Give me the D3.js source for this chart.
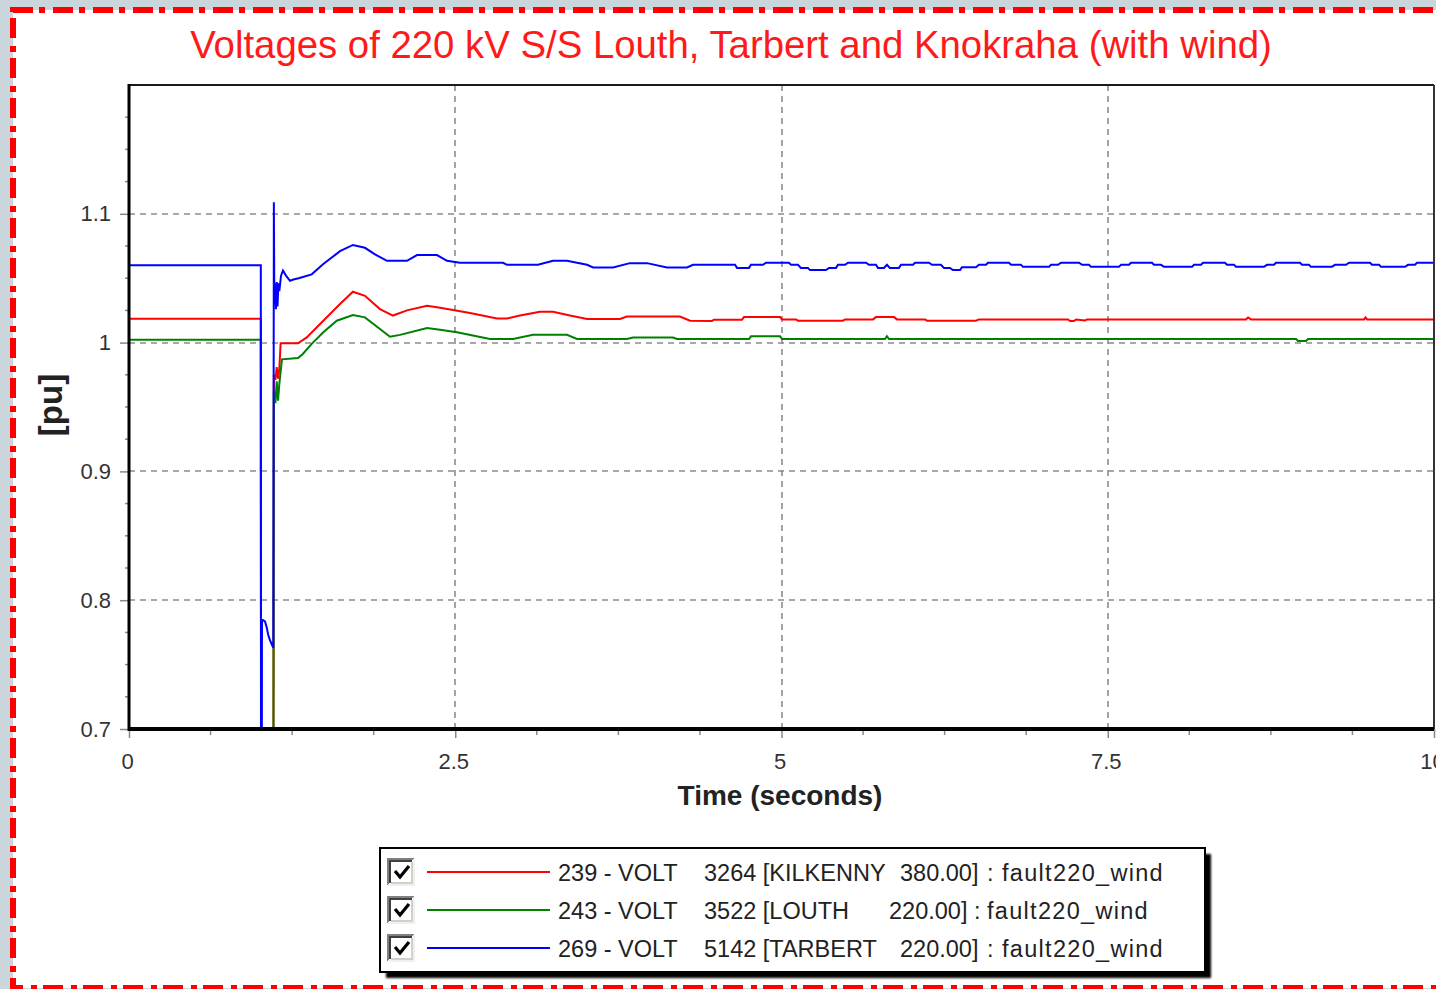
<!DOCTYPE html>
<html><head><meta charset="utf-8">
<script src="https://cdn.jsdelivr.net/npm/d3@7"></script>
<style>
html,body{margin:0;padding:0;background:#cbd5dc;overflow:hidden;}
svg{display:block;}
text{font-family:"Liberation Sans",Arial,sans-serif;}
</style></head><body>
<svg id="chart" width="1436" height="989"></svg>
<script>
// ---------------- data ----------------
const chartTitle = "Voltages of 220 kV S/S Louth, Tarbert and Knokraha (with wind)";
const xAxisTitle = "Time (seconds)";
const yAxisTitle = "[pu]";
const xTickValues = [0, 2.5, 5, 7.5, 10];
const xTickLabels = ["0", "2.5", "5", "7.5", "10"];
const yTickValues = [0.7, 0.8, 0.9, 1.0, 1.1];
const yTickLabels = ["0.7", "0.8", "0.9", "1", "1.1"];

const legendId = ["239 - VOLT", "243 - VOLT", "269 - VOLT"];
const legendBus = ["3264 [KILKENNY", "3522 [LOUTH", "5142 [TARBERT"];
const legendKv = ["380.00]", "220.00]", "220.00]"];
const legendSep = [":", ":", ":"];
const legendCase = ["fault220_wind", "fault220_wind", "fault220_wind"];
const seriesColors = ["#ff0000", "#008000", "#0000ff"];

// [time s, voltage pu]
const volt239 = [[0,1.0185],[1.010,1.0185],[1.013,0.50],[1.105,0.50],[1.110,0.975],[1.122,0.971],[1.132,0.981],[1.142,0.972],[1.152,0.980],[1.162,0.9995],[1.295,0.9995],[1.362,1.004],[1.489,1.017],[1.617,1.030],[1.716,1.0395],[1.808,1.0363],[1.923,1.026],[2.023,1.021],[2.130,1.025],[2.284,1.0286],[2.383,1.027],[2.483,1.0253],[2.613,1.023],[2.820,1.0188],[2.897,1.0188],[2.996,1.021],[3.149,1.024],[3.249,1.024],[3.379,1.021],[3.510,1.0183],[3.762,1.0183],[3.816,1.0203],[4.222,1.0203],[4.299,1.017],[4.467,1.0168],[4.483,1.0178],[4.697,1.0178],[4.713,1.0198],[4.989,1.0198],[5.004,1.018],[5.111,1.018],[5.126,1.017],[5.471,1.017],[5.487,1.018],[5.701,1.018],[5.724,1.0198],[5.862,1.0198],[5.885,1.018],[6.100,1.018],[6.115,1.017],[6.490,1.017],[6.513,1.018],[7.195,1.018],[7.211,1.0168],[7.241,1.0168],[7.257,1.018],[7.326,1.0172],[7.341,1.018],[8.559,1.018],[8.575,1.0195],[8.598,1.018],[9.464,1.018],[9.475,1.0195],[9.487,1.018],[10.0,1.018]];

const volt243 = [[0,1.0023],[1.010,1.0023],[1.013,0.50],[1.105,0.50],[1.110,0.962],[1.122,0.953],[1.132,0.970],[1.142,0.955],[1.152,0.968],[1.172,0.987],[1.295,0.988],[1.330,0.991],[1.400,0.999],[1.489,1.008],[1.592,1.017],[1.716,1.0214],[1.808,1.0196],[1.923,1.0106],[2.000,1.0046],[2.077,1.006],[2.284,1.0113],[2.383,1.010],[2.513,1.008],[2.766,1.0028],[2.943,1.0028],[3.096,1.006],[3.356,1.006],[3.433,1.0028],[3.816,1.0028],[3.862,1.004],[4.169,1.004],[4.199,1.0028],[4.751,1.0028],[4.766,1.0049],[4.989,1.0049],[5.004,1.0028],[5.793,1.0028],[5.808,1.005],[5.824,1.0028],[8.943,1.0028],[8.958,1.0012],[9.019,1.0012],[9.034,1.0028],[10.0,1.0028]];

const volt269 = [[0,1.060],[1.010,1.060],[1.013,0.30],[1.019,0.785],[1.042,0.7835],[1.055,0.779],[1.067,0.773],[1.080,0.769],[1.093,0.766],[1.106,0.763],[1.110,1.109],[1.114,1.030],[1.120,1.046],[1.126,1.026],[1.132,1.047],[1.138,1.028],[1.145,1.046],[1.152,1.040],[1.165,1.052],[1.180,1.056],[1.203,1.052],[1.234,1.048],[1.260,1.049],[1.300,1.050],[1.400,1.053],[1.489,1.061],[1.617,1.071],[1.716,1.0758],[1.808,1.0736],[1.885,1.0685],[1.977,1.0635],[2.130,1.0635],[2.207,1.068],[2.360,1.068],[2.437,1.0635],[2.536,1.062],[2.866,1.062],[2.897,1.0604],[3.134,1.0604],[3.249,1.0635],[3.356,1.0635],[3.510,1.0604],[3.556,1.0583],[3.709,1.0583],[3.839,1.0617],[3.969,1.0617],[4.123,1.0583],[4.276,1.0583],[4.322,1.0604],[4.644,1.0604],[4.659,1.058],[4.751,1.058],[4.766,1.0604],[4.858,1.0604],[4.881,1.062],[5.057,1.062],[5.073,1.0604],[5.126,1.0604],[5.149,1.058],[5.203,1.058],[5.218,1.0563],[5.341,1.0563],[5.364,1.058],[5.418,1.058],[5.433,1.0604],[5.487,1.0604],[5.510,1.062],[5.648,1.062],[5.670,1.0604],[5.724,1.0604],[5.739,1.058],[5.785,1.058],[5.808,1.0604],[5.830,1.058],[5.900,1.058],[5.916,1.0604],[6.008,1.0604],[6.023,1.062],[6.130,1.062],[6.153,1.0604],[6.222,1.0604],[6.245,1.058],[6.291,1.058],[6.314,1.0563],[6.368,1.0563],[6.383,1.0585],[6.490,1.0585],[6.513,1.0604],[6.567,1.0604],[6.582,1.062],[6.743,1.062],[6.759,1.0604],[6.835,1.0604],[6.851,1.0588],[7.050,1.0588],[7.065,1.0604],[7.119,1.0604],[7.142,1.062],[7.280,1.062],[7.303,1.0604],[7.356,1.0604],[7.372,1.0588],[7.586,1.0588],[7.602,1.0604],[7.663,1.0604],[7.678,1.062],[7.839,1.062],[7.854,1.0604],[7.908,1.0604],[7.931,1.0588],[8.146,1.0588],[8.161,1.0604],[8.215,1.0604],[8.230,1.062],[8.398,1.062],[8.414,1.0604],[8.467,1.0604],[8.483,1.0588],[8.697,1.0588],[8.720,1.0604],[8.774,1.0604],[8.789,1.062],[8.973,1.062],[8.989,1.0604],[9.042,1.0604],[9.057,1.0588],[9.218,1.0588],[9.241,1.0604],[9.326,1.0604],[9.349,1.062],[9.510,1.062],[9.525,1.0604],[9.579,1.0604],[9.594,1.0588],[9.778,1.0588],[9.801,1.0604],[9.854,1.0604],[9.870,1.062],[10.0,1.062]];

const seriesData = [volt239, volt243, volt269];

// ---------------- layout ----------------
const W = 1436, H = 989;
const plot = {left: 129, right: 1434, top: 85, bottom: 729};
const svg = d3.select("#chart");

const x = d3.scaleLinear().domain([0, 10]).range([plot.left, plot.right]);
const y = d3.scaleLinear().domain([0.7, 1.2]).range([plot.bottom, plot.top]);

// page background + red dash-dot frame
svg.append("rect").attr("width", W).attr("height", H).attr("fill", "#cbd5dc");
svg.append("rect").attr("x", 13).attr("y", 10).attr("width", W + 20).attr("height", 978)
  .attr("fill", "#ffffff").attr("stroke", "#ff0000").attr("stroke-width", 6)
  .attr("stroke-dasharray", "20,6,6,8");

// title
svg.append("text").attr("x", 731).attr("y", 58).attr("text-anchor", "middle")
  .attr("fill", "#ff1a1a").style("font-size", "32px").text(chartTitle)
  .each(function(){ const L=this.getComputedTextLength(); if(L>0){ d3.select(this).style("font-size", (32*1082/L).toFixed(2)+"px"); } });

// clip
svg.append("clipPath").attr("id", "clip").append("rect")
  .attr("x", plot.left).attr("y", plot.top).attr("width", plot.right - plot.left).attr("height", plot.bottom - plot.top);

// grid
const grid = svg.append("g").attr("stroke", "#8c8c8c").attr("stroke-width", 1.6).attr("stroke-dasharray", "6,5");
grid.selectAll("line.h").data(yTickValues.slice(1)).join("line")
  .attr("x1", plot.left).attr("x2", plot.right).attr("y1", d => Math.round(y(d))).attr("y2", d => Math.round(y(d)));
grid.selectAll("line.v").data(xTickValues.slice(1, -1)).join("line")
  .attr("y1", plot.top).attr("y2", plot.bottom).attr("x1", d => Math.round(x(d))).attr("x2", d => Math.round(x(d)));

// lines
const line = d3.line().x(d => x(d[0])).y(d => y(d[1]));
svg.append("g").attr("clip-path", "url(#clip)")
  .selectAll("path").data(seriesData).join("path")
  .attr("d", line).attr("fill", "none")
  .attr("stroke", (d, i) => seriesColors[i]).attr("stroke-width", 2)
  .attr("stroke-linejoin", "miter");

// minor ticks
const minorY = d3.range(0.725, 1.2, 0.025).filter(v => Math.abs(v*10 - Math.round(v*10)) > 0.01);
svg.append("g").selectAll("line").data(minorY).join("line")
  .attr("x1", plot.left - 4).attr("x2", plot.left).attr("y1", d => y(d)).attr("y2", d => y(d))
  .attr("stroke", "#888").attr("stroke-width", 1.5);
const minorX = d3.range(0.625, 10, 0.625).filter(v => Math.abs(v/2.5 - Math.round(v/2.5)) > 0.01);
svg.append("g").selectAll("line").data(minorX).join("line")
  .attr("y1", plot.bottom).attr("y2", plot.bottom + 6).attr("x1", d => x(d)).attr("x2", d => x(d))
  .attr("stroke", "#888").attr("stroke-width", 1.5);

// axes
const yAxis = d3.axisLeft(y).tickValues(yTickValues).tickFormat((d, i) => yTickLabels[i]).tickSize(9).tickPadding(9);
const gy = svg.append("g").attr("transform", `translate(${plot.left},0)`).call(yAxis);
const xAxis = d3.axisBottom(x).tickValues(xTickValues).tickFormat((d, i) => xTickLabels[i]).tickSize(9).tickPadding(15);
const gx = svg.append("g").attr("transform", `translate(0,${plot.bottom})`).call(xAxis);
[gy, gx].forEach(g => {
  g.select(".domain").remove();
  g.selectAll(".tick line").attr("stroke", "#888").attr("stroke-width", 1.5);
  g.selectAll(".tick text").attr("fill", "#333").style("font-size", "22px").style("font-family", '"Liberation Sans",Arial,sans-serif');
});
gx.selectAll(".tick text").attr("dx", "-2");

// frame
svg.append("line").attr("x1", plot.left).attr("x2", plot.right).attr("y1", plot.top).attr("y2", plot.top)
  .attr("stroke", "#1a1a1a").attr("stroke-width", 2);
svg.append("line").attr("x1", plot.right).attr("x2", plot.right).attr("y1", plot.top).attr("y2", plot.bottom)
  .attr("stroke", "#333").attr("stroke-width", 2);
svg.append("line").attr("x1", plot.left).attr("x2", plot.left).attr("y1", plot.top - 1).attr("y2", plot.bottom + 2)
  .attr("stroke", "#000").attr("stroke-width", 3);
svg.append("line").attr("x1", plot.left - 1).attr("x2", plot.right).attr("y1", plot.bottom).attr("y2", plot.bottom)
  .attr("stroke", "#000").attr("stroke-width", 4);

// axis titles
svg.append("text").attr("x", 780).attr("y", 805).attr("text-anchor", "middle")
  .style("font-size", "28px").style("font-weight", "bold").attr("fill", "#222").text(xAxisTitle);
svg.append("text").attr("transform", "translate(62,405) rotate(-90)").attr("text-anchor", "middle")
  .style("font-size", "33px").style("font-weight", "bold").attr("fill", "#222").text(yAxisTitle);

// legend
const lg = {x: 380, y: 848, w: 825, h: 124, rowY: [872, 910, 948]};
const defs = svg.append("defs");
defs.append("filter").attr("id", "blur").append("feGaussianBlur").attr("stdDeviation", 1.2);
svg.append("rect").attr("x", lg.x + 6).attr("y", lg.y + 6).attr("width", lg.w).attr("height", lg.h)
  .attr("fill", "#000").attr("filter", "url(#blur)");
svg.append("rect").attr("x", lg.x).attr("y", lg.y).attr("width", lg.w).attr("height", lg.h)
  .attr("fill", "#fff").attr("stroke", "#000").attr("stroke-width", 2);

const rows = svg.append("g").selectAll("g").data(seriesColors).join("g")
  .attr("transform", (d, i) => `translate(0,${lg.rowY[i]})`);
// checkbox (sunken 3D)
rows.append("rect").attr("x", 388).attr("y", -13).attr("width", 26).attr("height", 26).attr("fill", "#fff");
rows.append("path").attr("d", "M388,13 V-13 H414").attr("fill", "none").attr("stroke", "#808080").attr("stroke-width", 2);
rows.append("path").attr("d", "M390,11 V-11 H412").attr("fill", "none").attr("stroke", "#404040").attr("stroke-width", 2);
rows.append("path").attr("d", "M388,13 H414 V-13").attr("fill", "none").attr("stroke", "#f0f0f0").attr("stroke-width", 2);
rows.append("path").attr("d", "M391,11 H412 V-10").attr("fill", "none").attr("stroke", "#d4d0c8").attr("stroke-width", 2);
rows.append("path").attr("d", "M395,-1 L400,5 L409,-6").attr("fill", "none").attr("stroke", "#000").attr("stroke-width", 3.2);
// line sample
rows.append("line").attr("x1", 427).attr("x2", 550).attr("y1", 0).attr("y2", 0)
  .attr("stroke", d => d).attr("stroke-width", 2);
const txt = (sel, xs, arr, ls) => sel.append("text").attr("x", (d, i) => xs[i]).attr("y", 8.5)
  .style("font-size", "23.5px").style("letter-spacing", ls).attr("fill", "#222").text((d, i) => arr[i]);
txt(rows, [558, 558, 558], legendId, "0px");
txt(rows, [704, 704, 704], legendBus, "0px");
txt(rows, [900, 889, 900], legendKv, "0px");
txt(rows, [987, 974, 987], legendSep, "0px");
txt(rows, [1002, 987, 1002], legendCase, "1.3px");
</script>
</body></html>
